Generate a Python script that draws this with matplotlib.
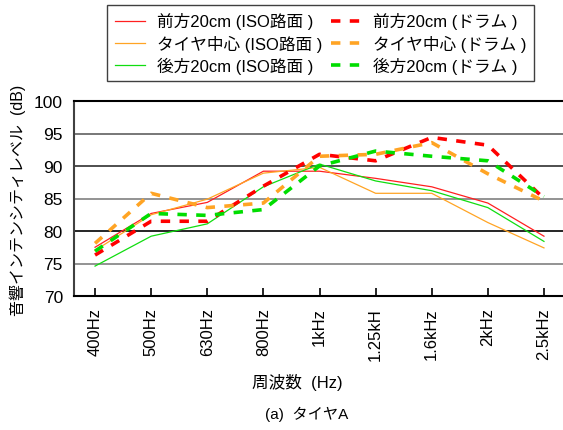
import matplotlib
matplotlib.use("Agg")
import matplotlib.pyplot as plt

plt.rcParams['font.family'] = ['Liberation Sans', 'Noto Sans CJK JP', 'DejaVu Sans']

freqs = ["400Hz", "500Hz", "630Hz", "800Hz", "1kHz", "1.25kH", "1.6kHz", "2kHz", "2.5kHz"]

front_iso  = [77.5, 82.7, 84.4, 89.2, 89.2, 88.1, 86.8, 84.3, 79.2]
center_iso = [77.0, 82.5, 84.9, 88.9, 89.8, 85.8, 85.8, 81.3, 77.4]
rear_iso   = [74.6, 79.2, 81.1, 86.8, 90.3, 87.7, 86.2, 83.6, 78.4]
front_drum  = [76.3, 81.5, 81.5, 86.9, 91.8, 90.8, 94.4, 93.2, 85.0]
center_drum = [78.1, 85.8, 83.6, 84.3, 91.5, 91.8, 93.6, 88.8, 84.6]
rear_drum   = [76.9, 82.7, 82.4, 83.3, 90.0, 92.3, 91.5, 90.8, 85.3]

labels_iso = ["前方20cm (ISO路面 )", "タイヤ中心 (ISO路面 )", "後方20cm (ISO路面 )"]
labels_drum = ["前方20cm (ドラム )", "タイヤ中心 (ドラム )", "後方20cm (ドラム )"]
colors = ["#ff2020", "#ffa424", "#10dd10"]
colors_d = ["#ff0000", "#ffa424", "#00dd00"]

fig = plt.figure(figsize=(5.63, 4.31), dpi=100)
ax = fig.add_axes([74/563, 1-297/431, (565-74)/563, (297-102)/431])

x = list(range(len(freqs)))
handles = []
for ys, c, lab in zip([front_iso, center_iso, rear_iso], colors, labels_iso):
    h, = ax.plot(x, ys, color=c, lw=0.9, label=lab)
    handles.append(h)
for ys, c, lab in zip([front_drum, center_drum, rear_drum], colors_d, labels_drum):
    h, = ax.plot(x, ys, color=c, lw=2.6, linestyle=(0, (2.6, 2.6)), label=lab)
    handles.append(h)

for v, c in [(75, '#808080'), (80, '#000000'), (85, '#808080'), (90, '#303030'), (95, '#606060')]:
    ax.axhline(v, color=c, lw=1.2, zorder=0)

ax.set_ylim(70, 100)
ax.set_xlim(-0.375, 8.375)
ax.set_yticks([70, 75, 80, 85, 90, 95, 100])
ax.set_xticks(x)
ax.set_xticklabels(freqs, rotation=90, fontsize=12)
ax.tick_params(axis='y', length=0, labelsize=12.5, pad=8)
ax.tick_params(axis='x', direction='in', length=6, width=1.2, pad=8)
for s in ['left', 'top', 'bottom']:
    ax.spines[s].set_linewidth(1.5)
ax.spines['left'].set_color('#404040')
ax.spines['right'].set_visible(False)

fig.text(18/563, 1-200/431, "音響インテンシティレベル  (dB)", rotation=90, ha='center', va='center', fontsize=11.5)
fig.text(297/563, 1-383/431, "周波数  (Hz)", ha='center', va='center', fontsize=12)
fig.text(307/563, 1-414/431, "(a)  タイヤA", ha='center', va='center', fontsize=11)

leg = fig.legend(handles=handles, ncol=2, loc='upper left', bbox_to_anchor=(107/563, 1-6/431),
                 fontsize=12, frameon=True, fancybox=False, edgecolor='#404040', framealpha=1,
                 handlelength=1.8, columnspacing=0.5, labelspacing=0.3, borderpad=0.45,
                 handletextpad=0.75, borderaxespad=0)
leg.get_frame().set_linewidth(1.0)

fig.savefig("out.png", dpi=100)
